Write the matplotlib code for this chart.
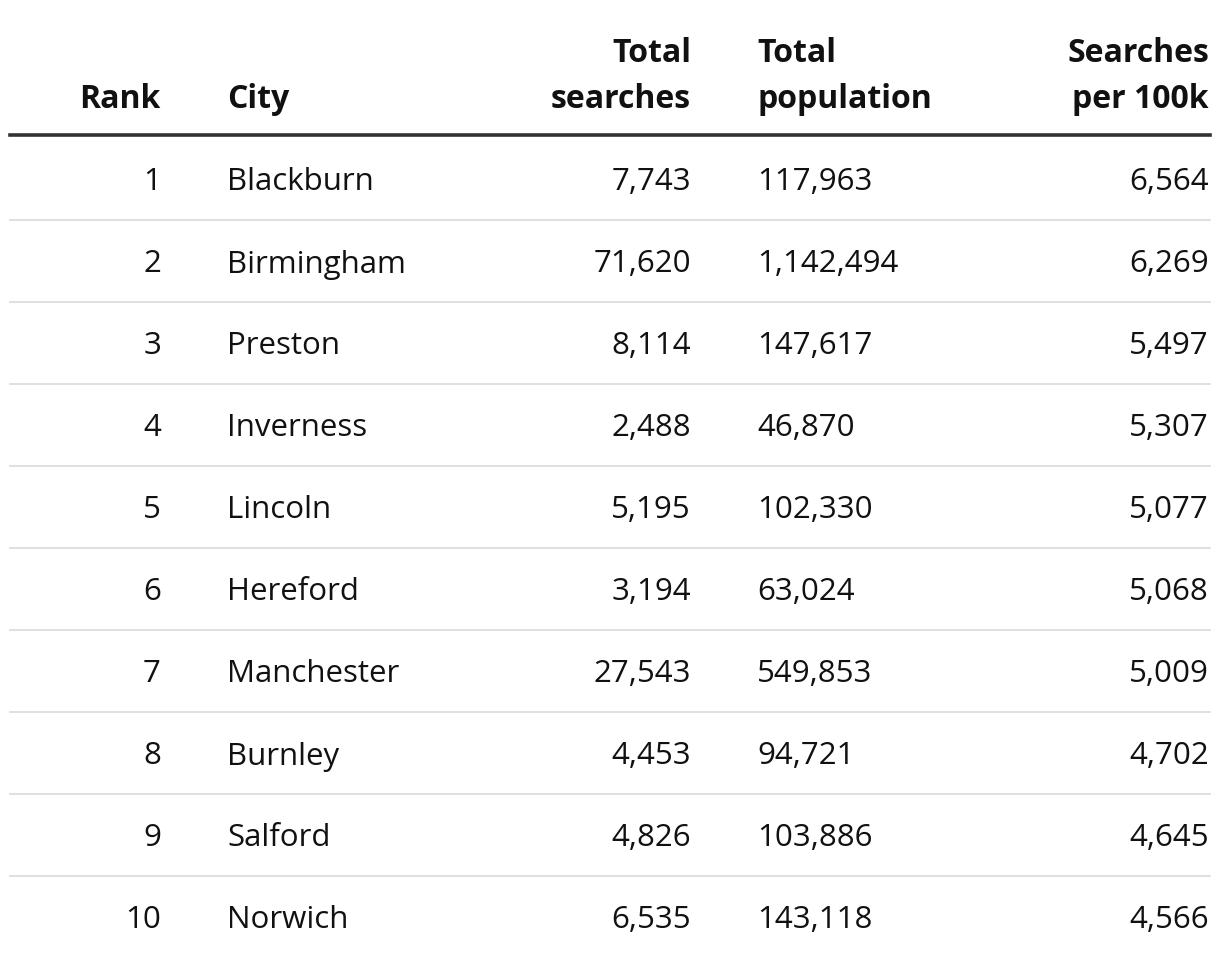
import matplotlib.pyplot as plt
from matplotlib.lines import Line2D

ranks = [1, 2, 3, 4, 5, 6, 7, 8, 9, 10]
cities = ['Blackburn', 'Birmingham', 'Preston', 'Inverness', 'Lincoln',
          'Hereford', 'Manchester', 'Burnley', 'Salford', 'Norwich']
total_searches = [7743, 71620, 8114, 2488, 5195, 3194, 27543, 4453, 4826, 6535]
total_population = [117963, 1142494, 147617, 46870, 102330, 63024, 549853,
                    94721, 103886, 143118]
per_100k = [6564, 6269, 5497, 5307, 5077, 5068, 5009, 4702, 4645, 4566]

headers = ['Rank', 'City', 'Total\nsearches', 'Total\npopulation', 'Searches\nper 100k']

W, H = 1220, 966
fig = plt.figure(figsize=(W / 100, H / 100), dpi=100)
ax = fig.add_axes([0, 0, 1, 1])
ax.set_xlim(0, W)
ax.set_ylim(H, 0)
ax.axis('off')

plt.rcParams['font.family'] = ['Open Sans', 'DejaVu Sans']
fs = 22.5
txt = '#111111'

# column anchors (x, alignment)
cols = [(161, 'right'), (227, 'left'), (691, 'right'), (757, 'left'), (1209, 'right')]

# header
for (x, ha), h in zip(cols, headers):
    ax.text(x, 108, h, ha=ha, va='baseline', fontsize=23, fontweight='bold',
            color=txt, linespacing=1.53)
ax.add_line(Line2D([10, 1210], [135, 135], color='#333333', lw=2.6))

row0, step = 179, 82
for i in range(len(ranks)):
    y = row0 + i * step
    vals = [str(ranks[i]), cities[i], f'{total_searches[i]:,}',
            f'{total_population[i]:,}', f'{per_100k[i]:,}']
    for (x, ha), v in zip(cols, vals):
        ax.text(x, y, v, ha=ha, va='center_baseline', fontsize=fs, color=txt)
    if i < len(ranks) - 1:
        ly = y + step / 2
        ax.add_line(Line2D([10, 1210], [ly, ly], color='#dddddd', lw=1.3))

fig.savefig('out.png', dpi=100, facecolor='white')
